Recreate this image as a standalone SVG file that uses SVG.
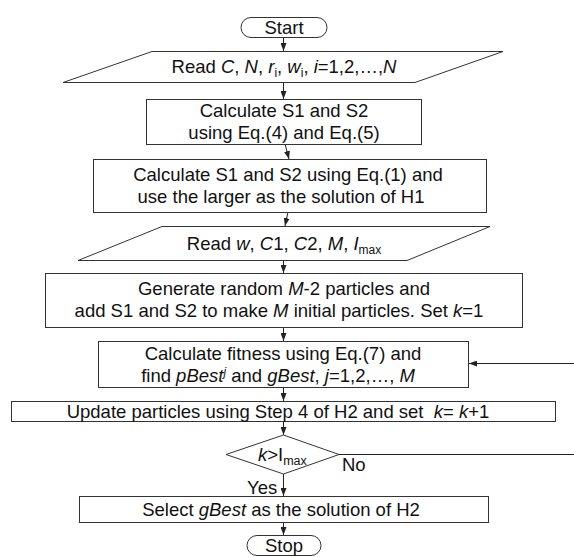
<svg xmlns="http://www.w3.org/2000/svg" width="574" height="557" viewBox="0 0 574 557">
<defs>
<style>
.s{fill:#fff;stroke:#333;stroke-width:1}
.t{font-family:"Liberation Sans",Arial,sans-serif;font-size:18.5px;fill:#111;text-anchor:middle}
.i{font-style:italic}
.sub{font-size:12px}
.c{fill:none;stroke:#222;stroke-width:1}
</style>
<marker id="ah" viewBox="0 0 8 6" refX="8" refY="3" markerWidth="8" markerHeight="6" markerUnits="userSpaceOnUse" orient="auto">
<path d="M0,0 L8,3 L0,6 z" fill="#222"/>
</marker>
</defs>
<rect width="574" height="557" fill="#fff"/>
<g id="connectors">
<line class="c" x1="283.5" y1="37" x2="283.5" y2="51" marker-end="url(#ah)"/>
<line class="c" x1="283.5" y1="82" x2="283.5" y2="99" marker-end="url(#ah)"/>
<line class="c" x1="285" y1="144" x2="289" y2="159" marker-end="url(#ah)"/>
<line class="c" x1="288" y1="212" x2="285" y2="226" marker-end="url(#ah)"/>
<line class="c" x1="283.5" y1="260" x2="283.5" y2="273" marker-end="url(#ah)"/>
<line class="c" x1="283.5" y1="327" x2="283.5" y2="341" marker-end="url(#ah)"/>
<line class="c" x1="283.5" y1="387" x2="283.5" y2="401" marker-end="url(#ah)"/>
<line class="c" x1="283.5" y1="421" x2="283.5" y2="435" marker-end="url(#ah)"/>
<line class="c" x1="283.5" y1="474" x2="283.5" y2="496" marker-end="url(#ah)"/>
<line class="c" x1="283.5" y1="522" x2="283.5" y2="535" marker-end="url(#ah)"/>
<line class="c" x1="574" y1="363.5" x2="469" y2="363.5" marker-end="url(#ah)"/>
<line class="c" x1="339" y1="454.5" x2="574" y2="454.5"/>
<text class="t" x="342" y="471" style="text-anchor:start">No</text>
<text class="t" x="247" y="494" style="text-anchor:start">Yes</text>
</g>
<g id="start">
<rect class="s" x="241" y="17.5" width="86" height="20" rx="10" ry="10"/>
<text class="t" x="284" y="34">Start</text>
</g>
<g id="read1">
<polygon class="s" points="152,51.5 503,51.5 415,82.5 63,82.5"/>
<text class="t" x="284" y="73">Read <tspan class="i">C</tspan>, <tspan class="i">N</tspan>, <tspan class="i">r</tspan><tspan class="sub" dy="4">i</tspan><tspan dy="-4">, </tspan><tspan class="i">w</tspan><tspan class="sub" dy="4">i</tspan><tspan dy="-4">, </tspan><tspan class="i">i</tspan>=1,2,…,<tspan class="i">N</tspan></text>
</g>
<g id="calc1">
<rect class="s" x="146.5" y="99.5" width="275" height="45"/>
<text class="t" x="284" y="117">Calculate S1 and S2</text>
<text class="t" x="284" y="139">using Eq.(4) and Eq.(5)</text>
</g>
<g id="calc2">
<rect class="s" x="93.5" y="159.5" width="393" height="53"/>
<text class="t" x="288" y="181">Calculate S1 and S2 using Eq.(1) and</text>
<text class="t" x="281" y="203">use the larger as the solution of H1</text>
</g>
<g id="read2">
<polygon class="s" points="162,226.5 490,226.5 407,260.5 78,260.5"/>
<text class="t" x="284" y="250">Read <tspan class="i">w</tspan>, <tspan class="i">C</tspan>1, <tspan class="i">C</tspan>2, <tspan class="i">M</tspan>, <tspan class="i">I</tspan><tspan class="sub" dy="4">max</tspan></text>
</g>
<g id="generate">
<rect class="s" x="45.5" y="273.5" width="477" height="54"/>
<text class="t" x="284" y="295">Generate random <tspan class="i">M</tspan>-2 particles and</text>
<text class="t" x="279" y="317">add S1 and S2 to make <tspan class="i">M</tspan> initial particles. Set <tspan class="i">k</tspan>=1</text>
</g>
<g id="fitness">
<rect class="s" x="98.5" y="341.5" width="370" height="46"/>
<text class="t" x="283" y="360">Calculate fitness using Eq.(7) and</text>
<text class="t" x="278" y="382">find <tspan class="i">pBest</tspan><tspan class="i sub" dy="-6">j</tspan><tspan dy="6"> and </tspan><tspan class="i">gBest</tspan>, <tspan class="i">j</tspan>=1,2,…, <tspan class="i">M</tspan></text>
</g>
<g id="update">
<rect class="s" x="11.5" y="401.5" width="544" height="20"/>
<text class="t" x="278" y="417.5" style="white-space:pre" xml:space="preserve">Update particles using Step 4 of H2 and set  <tspan class="i">k</tspan>= <tspan class="i">k</tspan>+1</text>
</g>
<g id="decision">
<polygon class="s" points="283.5,435 339,454.5 283.5,474 226,454.5"/>
<text class="t" x="258" y="461" style="text-anchor:start"><tspan class="i">k</tspan>&gt;I<tspan class="sub" dy="4" style="font-size:12.5px">max</tspan></text>
</g>
<g id="select">
<rect class="s" x="79.5" y="496.5" width="409" height="26"/>
<text class="t" x="281" y="516">Select <tspan class="i">gBest</tspan> as the solution of H2</text>
</g>
<g id="stop">
<rect class="s" x="247" y="535.5" width="74" height="20" rx="10" ry="10"/>
<text class="t" x="284" y="552">Stop</text>
</g>
</svg>
